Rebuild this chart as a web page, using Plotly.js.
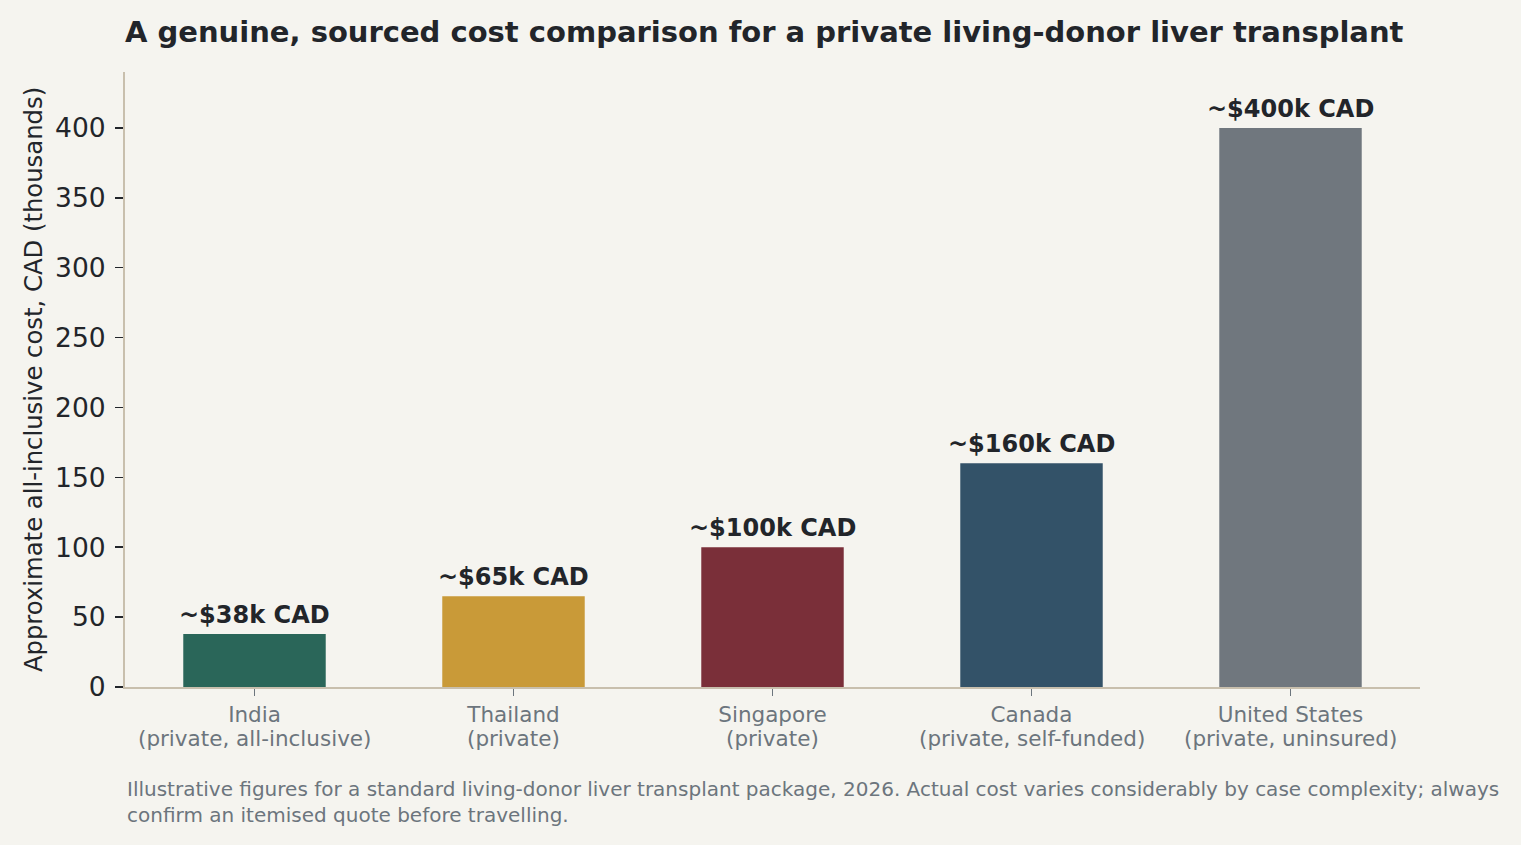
<!DOCTYPE html>
<html>
<head>
<meta charset="utf-8">
<script src="https://cdn.plot.ly/plotly-3.0.1.min.js"></script>
<style>
  html, body { margin: 0; padding: 0; background: #f5f4ef; }
  #plot { width: 1521px; height: 845px; }
</style>
</head>
<body>
<div id="plot"></div>
<script>
const countries = ["India", "Thailand", "Singapore", "Canada", "United States"];
const notes = [
  "(private, all-inclusive)",
  "(private)",
  "(private)",
  "(private, self-funded)",
  "(private, uninsured)"
];
const costs = [38, 65, 100, 160, 400];
const labels = ["~$38k CAD", "~$65k CAD", "~$100k CAD", "~$160k CAD", "~$400k CAD"];
const colors = ["#2a6659", "#c99a38", "#7a2f39", "#335268", "#70777e"];

const font = "DejaVu Sans, Verdana, sans-serif";

const traces = [{
  type: "bar",
  x: countries,
  y: costs,
  width: 0.55,
  marker: { color: colors, line: { width: 0 } },
  hoverinfo: "skip",
  showlegend: false
}];

// value labels above the bars
const annotations = countries.map((c, i) => ({
  x: c,
  y: costs[i],
  xref: "x",
  yref: "y",
  text: "<b>" + labels[i] + "</b>",
  showarrow: false,
  yanchor: "bottom",
  yshift: 3,
  font: { family: font, size: 24, color: "#22252a" }
}));

// second line of each category label (tighter spacing than tick <br>)
countries.forEach((c, i) => {
  annotations.push({
    x: c,
    y: 0,
    xref: "x",
    yref: "y",
    text: notes[i],
    showarrow: false,
    yanchor: "middle",
    yshift: -51,
    font: { family: font, size: 21.5, color: "#6c757d" }
  });
});

annotations.push({
  xref: "paper",
  yref: "paper",
  x: 0,
  y: -0.143,
  xanchor: "left",
  yanchor: "top",
  align: "left",
  showarrow: false,
  text: "Illustrative figures for a standard living-donor liver transplant package, 2026. Actual cost varies considerably by case complexity; always<br>confirm an itemised quote before travelling.",
  font: { family: font, size: 20, color: "#6c757d" }
});

const layout = {
  width: 1521,
  height: 845,
  margin: { l: 125, r: 101, t: 72, b: 158 },
  paper_bgcolor: "#f5f4ef",
  plot_bgcolor: "#f5f4ef",
  font: { family: font, color: "#22252a" },
  title: {
    text: "<b>A genuine, sourced cost comparison for a private living-donor liver transplant</b>",
    x: 125 / 1521,
    xanchor: "left",
    y: 1 - 32 / 845,
    yanchor: "middle",
    font: { family: font, size: 29, color: "#22252a" }
  },
  xaxis: {
    range: [-0.5, 4.5],
    showline: true,
    linecolor: "#c8bfad",
    linewidth: 2,
    ticks: "outside",
    ticklen: 7,
    tickwidth: 1.5,
    tickcolor: "#6c757d",
    tickfont: { family: font, size: 21.5, color: "#6c757d" },
    showgrid: false,
    zeroline: false,
    fixedrange: true
  },
  yaxis: {
    range: [0, 440],
    tickvals: [0, 50, 100, 150, 200, 250, 300, 350, 400],
    showline: true,
    linecolor: "#c8bfad",
    linewidth: 2,
    ticks: "outside",
    ticklen: 8,
    tickwidth: 1.5,
    tickcolor: "#22252a",
    tickfont: { family: font, size: 26.5, color: "#22252a" },
    ticklabelstandoff: 4,
    showgrid: false,
    zeroline: false,
    title: {
      text: "Approximate all-inclusive cost, CAD (thousands)",
      font: { family: font, size: 24.3, color: "#22252a" },
      standoff: 6
    },
    fixedrange: true
  },
  annotations: annotations,
  bargap: 0.45
};

Plotly.newPlot("plot", traces, layout, { displayModeBar: false, staticPlot: true });
</script>
</body>
</html>
